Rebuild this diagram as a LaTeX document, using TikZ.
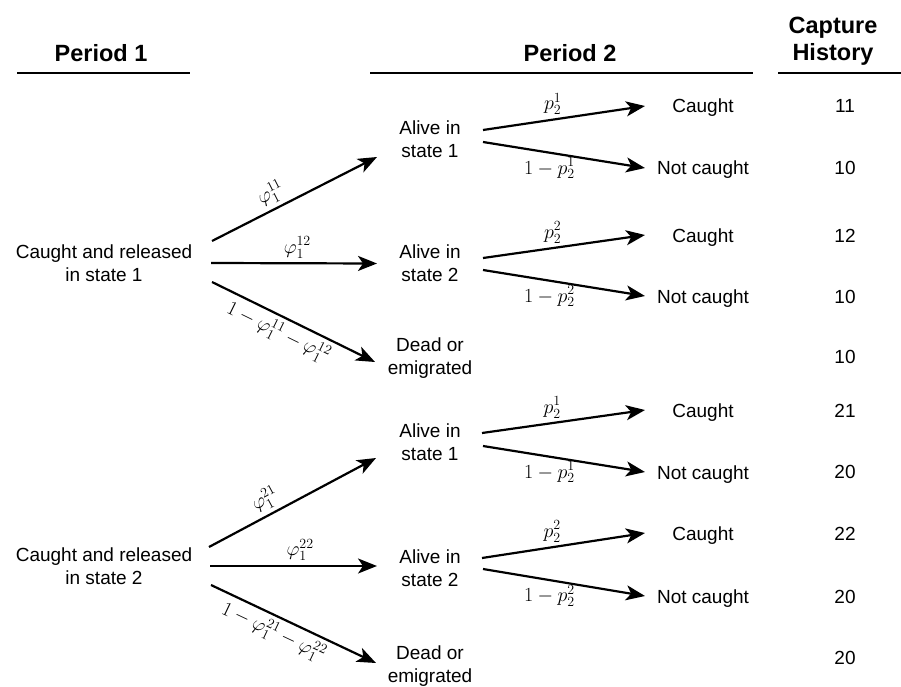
\RequirePackage{fix-cm}
\documentclass[tikz,border=0pt]{standalone}
\usepackage{fontspec}
\setmainfont{Liberation Sans}
\usetikzlibrary{arrows.meta}
\begin{document}
\begin{tikzpicture}[x=1pt,y=-1pt,
  txt/.style={font=\fontsize{19}{23}\selectfont, align=center, inner sep=0pt},
  one/.style={font=\fontsize{19}{22}\selectfont, anchor=base, inner sep=0pt},
  hdr/.style={font=\fontsize{23.5}{27}\selectfont\bfseries, align=center, inner sep=0pt},
  arr/.style={line width=2.2pt, -{Stealth[length=19pt,width=15pt,inset=5pt]}},
  lbl/.style={font=\fontsize{20}{23}\selectfont, inner sep=4pt},
  rulestyle/.style={line width=1.3pt}]
\useasboundingbox (0,0) rectangle (901,687);

% headers
\node[hdr] (h1) at (101,53) {Period 1};
\node[hdr] (h2) at (570,53) {Period 2};
\node[hdr] (h3) at (833,41.5) {Capture\\History};
\coordinate (r1a) at (17,73);  \coordinate (r1b) at (190,73);
\coordinate (r2a) at (370,73); \coordinate (r2b) at (753,73);
\coordinate (r3a) at (778,73); \coordinate (r3b) at (901,73);
\draw[rulestyle] (r1a) -- (r1b);
\draw[rulestyle] (r2a) -- (r2b);
\draw[rulestyle] (r3a) -- (r3b);

% period 1 origins
\node[txt] (c1) at (104,263) {Caught and released\\in state 1};
\node[txt] (c2) at (104,566) {Caught and released\\in state 2};

% period 2 states
\node[txt] (a11) at (430,139) {Alive in\\state 1};
\node[txt] (a12) at (430,263.5) {Alive in\\state 2};
\node[txt] (d1)  at (430,358) {Dead or\\emigrated};
\node[txt] (a21) at (430,442) {Alive in\\state 1};
\node[txt] (a22) at (430,568) {Alive in\\state 2};
\node[txt] (d2)  at (430,666) {Dead or\\emigrated};

% outcomes (base = visual centre + 7)
\node[one] (k11) at (703,113) {Caught};
\node[one] (n11) at (703,175) {Not caught};
\node[one] (k12) at (703,242) {Caught};
\node[one] (n12) at (703,303) {Not caught};
\node[one] (k21) at (703,417) {Caught};
\node[one] (n21) at (703,479) {Not caught};
\node[one] (k22) at (703,540) {Caught};
\node[one] (n22) at (703,603) {Not caught};

% capture histories
\node[one] (h11) at (845,113) {11};
\node[one] (h10a) at (845,175) {10};
\node[one] (h12) at (845,242) {12};
\node[one] (h10b) at (845,303) {10};
\node[one] (h10c) at (845,363) {10};
\node[one] (h21) at (845,417) {21};
\node[one] (h20a) at (845,478) {20};
\node[one] (h22) at (845,540) {22};
\node[one] (h20b) at (845,603) {20};
\node[one] (h20c) at (845,664) {20};

% period 1 -> period 2, state 1
\draw[arr] ([shift={(108pt,22pt)}]c1.center) -- node[lbl,sloped,above,pos=0.4] {$\varphi_1^{11}$} ([shift={(-53pt,-18pt)}]a11.center);
\draw[arr] ([shift={(107pt,0pt)}]c1.center) -- node[lbl,above,pos=0.52] {$\varphi_1^{12}$} ([shift={(-53pt,0pt)}]a12.center);
\draw[arr] ([shift={(108pt,-19pt)}]c1.center) -- node[lbl,sloped,below,pos=0.45] {$1-\varphi_1^{11}-\varphi_1^{12}$} ([shift={(-55pt,-4pt)}]d1.center);

% period 1 -> period 2, state 2
\draw[arr] ([shift={(105pt,19pt)}]c2.center) -- node[lbl,sloped,above,pos=0.38] {$\varphi_1^{21}$} ([shift={(-54pt,-16pt)}]a21.center);
\draw[arr] ([shift={(106pt,0pt)}]c2.center) -- node[lbl,above,pos=0.54] {$\varphi_1^{22}$} ([shift={(-53pt,2pt)}]a22.center);
\draw[arr] ([shift={(107pt,-19pt)}]c2.center) -- node[lbl,sloped,below,pos=0.42] {$1-\varphi_1^{21}-\varphi_1^{22}$} ([shift={(-54pt,3pt)}]d2.center);

% capture in period 2
\draw[arr] ([shift={(53pt,9pt)}]a11.center) -- node[lbl,above,pos=0.43] {$p_2^1$} ([shift={(-58pt,7pt)}]k11.base);
\draw[arr] ([shift={(53pt,-3pt)}]a11.center) -- node[lbl,below,pos=0.41] {$1-p_2^1$} ([shift={(-58pt,7pt)}]n11.base);
\draw[arr] ([shift={(53pt,5.5pt)}]a12.center) -- node[lbl,above,pos=0.43] {$p_2^2$} ([shift={(-58pt,7pt)}]k12.base);
\draw[arr] ([shift={(53pt,-6.5pt)}]a12.center) -- node[lbl,below,pos=0.41] {$1-p_2^2$} ([shift={(-58pt,7pt)}]n12.base);
\draw[arr] ([shift={(52pt,9pt)}]a21.center) -- node[lbl,above,pos=0.43] {$p_2^1$} ([shift={(-58pt,7pt)}]k21.base);
\draw[arr] ([shift={(53pt,-4pt)}]a21.center) -- node[lbl,below,pos=0.41] {$1-p_2^1$} ([shift={(-58pt,7pt)}]n21.base);
\draw[arr] ([shift={(52pt,10pt)}]a22.center) -- node[lbl,above,pos=0.43] {$p_2^2$} ([shift={(-58pt,7pt)}]k22.base);
\draw[arr] ([shift={(53pt,-1pt)}]a22.center) -- node[lbl,below,pos=0.41] {$1-p_2^2$} ([shift={(-58pt,7pt)}]n22.base);
\end{tikzpicture}
\end{document}
